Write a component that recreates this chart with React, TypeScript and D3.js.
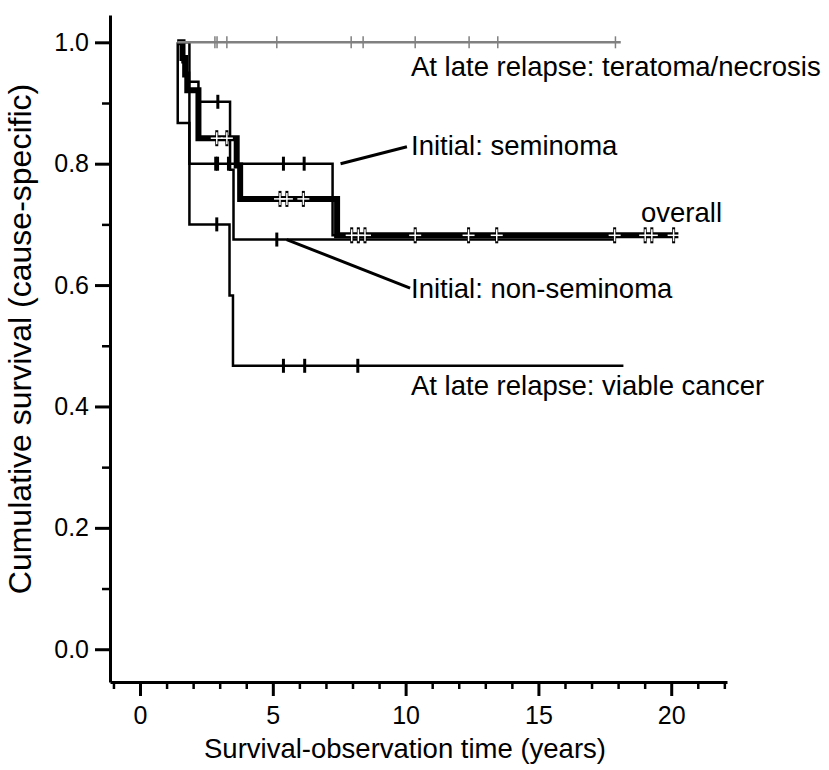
import { useEffect, useRef } from 'react';
import * as d3 from 'd3';

// Kaplan-Meier steps: [years, cumulative survival]
const overallSteps: [number, number][] = [
  [1.4, 1.0], [1.6, 0.974], [1.7, 0.947], [1.78, 0.921], [2.2, 0.842],
  [3.64, 0.797], [3.77, 0.742], [7.42, 0.682], [20.27, 0.682],
];
const overallCensor: [number, number][] = [
  [2.89, 0.842], [3.27, 0.842], [5.27, 0.742], [5.53, 0.742], [6.15, 0.742],
  [7.97, 0.682], [8.22, 0.682], [8.47, 0.682], [10.36, 0.682], [12.37, 0.682],
  [13.43, 0.682], [17.87, 0.682], [19.02, 0.682], [19.27, 0.682], [20.09, 0.682],
];

const teratomaSteps: [number, number][] = [[1.4, 1.0], [18.1, 1.0]];
const teratomaCensor = [2.82, 2.9, 3.27, 5.15, 7.95, 8.4, 10.36, 12.39, 13.47, 17.9];

const seminomaSteps: [number, number][] = [[1.4, 1.0], [1.86, 0.8], [7.25, 0.682], [18.0, 0.682]];
const seminomaCensor: [number, number][] = [[2.85, 0.8], [2.92, 0.8], [3.33, 0.8], [5.4, 0.8], [6.18, 0.8]];

const nonSemSteps: [number, number][] = [
  [1.4, 1.0], [1.6, 0.967], [1.75, 0.935], [2.2, 0.902], [3.39, 0.79], [3.52, 0.675], [17.9, 0.675],
];
const nonSemCensor: [number, number][] = [[2.93, 0.902], [5.15, 0.675]];

const viableSteps: [number, number][] = [
  [1.4, 1.0], [1.42, 0.867], [1.86, 0.7], [3.37, 0.583], [3.5, 0.467], [18.2, 0.467],
];
const viableCensor: [number, number][] = [[2.89, 0.7], [5.4, 0.467], [6.2, 0.467], [8.2, 0.467]];

const xTicks = [0, 5, 10, 15, 20];
const xMinorTicks = [-1, 1, 2, 3, 4, 6, 7, 8, 9, 11, 12, 13, 14, 16, 17, 18, 19, 21, 22];
const yTicks = [0, 0.2, 0.4, 0.6, 0.8, 1.0];
const yMinorTicks = [0.1, 0.3, 0.5, 0.7, 0.9];

const labels = [
  { text: 'At late relapse: teratoma/necrosis', x: 411, y: 76 },
  { text: 'Initial: seminoma', x: 411, y: 155 },
  { text: 'overall', x: 641, y: 222 },
  { text: 'Initial: non-seminoma', x: 411, y: 298 },
  { text: 'At late relapse: viable cancer', x: 411, y: 395 },
];

const W = 829;
const H = 770;
const FONT = '"Liberation Sans", Arial, Helvetica, sans-serif';

const App = () => {
  const svgRef = useRef<SVGSVGElement>(null);

  useEffect(() => {
    const svg = d3.select(svgRef.current);
    svg.selectAll('*').remove();

    const x = d3.scaleLinear().domain([-1.13, 22.1]).range([110, 727]);
    const y = d3.scaleLinear().domain([-0.054, 1.045]).range([682, 15]);

    const line = d3
      .line<[number, number]>()
      .x(d => x(d[0]))
      .y(d => y(d[1]))
      .curve(d3.curveStepAfter);

    // axes
    svg
      .append('g')
      .attr('transform', `translate(0,${y(-0.054)})`)
      .call(d3.axisBottom(x).tickValues(xTicks).tickSize(14).tickSizeOuter(0).tickPadding(10))
      .call(g => g.select('.domain').attr('stroke-width', 3))
      .call(g => g.selectAll('.tick line').attr('stroke-width', 3))
      .call(g => g.selectAll('text').attr('font-size', 25).attr('font-family', FONT).attr('fill', '#000'));
    svg
      .append('g')
      .attr('transform', `translate(0,${y(-0.054)})`)
      .call(d3.axisBottom(x).tickValues(xMinorTicks).tickSize(7).tickSizeOuter(0).tickFormat(() => ''))
      .call(g => g.select('.domain').remove())
      .call(g => g.selectAll('.tick line').attr('stroke-width', 2.5));

    svg
      .append('g')
      .attr('transform', `translate(${x(-1.13)},0)`)
      .call(d3.axisLeft(y).tickValues(yTicks).tickSize(15).tickSizeOuter(0).tickPadding(6).tickFormat(d3.format('.1f')))
      .call(g => g.select('.domain').attr('stroke-width', 3))
      .call(g => g.selectAll('.tick line').attr('stroke-width', 3))
      .call(g => g.selectAll('text').attr('font-size', 25).attr('font-family', FONT).attr('fill', '#000'));
    svg
      .append('g')
      .attr('transform', `translate(${x(-1.13)},0)`)
      .call(d3.axisLeft(y).tickValues(yMinorTicks).tickSize(8).tickSizeOuter(0).tickFormat(() => ''))
      .call(g => g.select('.domain').remove())
      .call(g => g.selectAll('.tick line').attr('stroke-width', 2.5));

    svg
      .append('text')
      .attr('x', 405)
      .attr('y', 758)
      .attr('text-anchor', 'middle')
      .attr('font-size', 27.5)
      .attr('font-family', FONT)
      .text('Survival-observation time (years)');

    svg
      .append('text')
      .attr('transform', `translate(31,339) rotate(-90)`)
      .attr('text-anchor', 'middle')
      .attr('font-size', 32)
      .attr('font-family', FONT)
      .text('Cumulative survival (cause-specific)');

    const curves = svg.append('g').attr('fill', 'none');

    const thin = [viableSteps, nonSemSteps, seminomaSteps];
    curves
      .selectAll('path.thin')
      .data(thin)
      .join('path')
      .attr('class', 'thin')
      .attr('d', d => line(d))
      .attr('stroke', '#000')
      .attr('stroke-width', 2.5);

    const blackCensor = [...viableCensor, ...nonSemCensor, ...seminomaCensor];
    curves
      .selectAll('line.bc')
      .data(blackCensor)
      .join('line')
      .attr('class', 'bc')
      .attr('x1', d => x(d[0]))
      .attr('x2', d => x(d[0]))
      .attr('y1', d => y(d[1]) - 7)
      .attr('y2', d => y(d[1]) + 7)
      .attr('stroke', '#000')
      .attr('stroke-width', 3);

    curves
      .append('path')
      .attr('d', line(overallSteps))
      .attr('stroke', '#000')
      .attr('stroke-width', 6);

    const oc = curves.selectAll('g.oc').data(overallCensor).join('g').attr('class', 'oc')
      .attr('transform', d => `translate(${x(d[0])},${y(d[1])})`);
    oc.append('line').attr('y1', -8).attr('y2', 8).attr('stroke', '#000').attr('stroke-width', 3);
    oc.append('line').attr('y1', -6).attr('y2', 6).attr('stroke', '#fff').attr('stroke-width', 1.5);
    oc.append('line').attr('x1', -6).attr('x2', 6).attr('stroke', '#fff').attr('stroke-width', 1.5);

    curves
      .append('path')
      .attr('d', line(teratomaSteps))
      .attr('stroke', '#808080')
      .attr('stroke-width', 2.5);
    curves
      .selectAll('line.gc')
      .data(teratomaCensor)
      .join('line')
      .attr('class', 'gc')
      .attr('x1', d => x(d))
      .attr('x2', d => x(d))
      .attr('y1', y(1) - 6)
      .attr('y2', y(1) + 6)
      .attr('stroke', '#808080')
      .attr('stroke-width', 1.5);

    // pointer lines
    const pointers = [
      [[7.55, 0.8], [10.05, 0.828]],
      [[5.52, 0.675], [10.17, 0.595]],
    ];
    svg
      .append('g')
      .selectAll('line')
      .data(pointers)
      .join('line')
      .attr('x1', d => x(d[0][0]))
      .attr('y1', d => y(d[0][1]))
      .attr('x2', d => x(d[1][0]))
      .attr('y2', d => y(d[1][1]))
      .attr('stroke', '#000')
      .attr('stroke-width', 3);

    svg
      .append('g')
      .selectAll('text')
      .data(labels)
      .join('text')
      .attr('x', d => d.x)
      .attr('y', d => d.y)
      .attr('font-size', 27.5)
      .attr('font-family', FONT)
      .text(d => d.text);
  }, []);

  return (
    <svg
      ref={svgRef}
      width={W}
      height={H}
      style={{ position: 'absolute', left: 0, top: 0, background: '#fff' }}
    ></svg>
  );
};

export default App;
